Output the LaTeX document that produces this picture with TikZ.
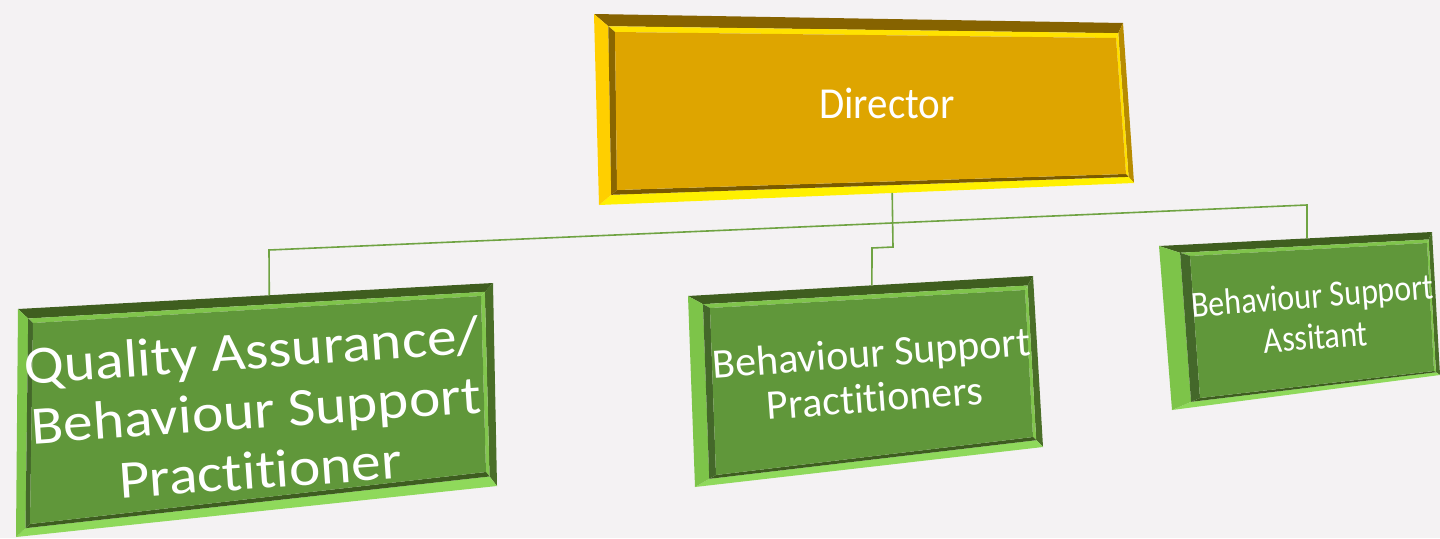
\documentclass[tikz,border=0pt]{standalone}
\usepackage{fontspec}
\setmainfont{Carlito}[Ligatures=NoCommon]
\usetikzlibrary{calc}

\definecolor{bg}{HTML}{F4F2F3}
\definecolor{wire}{HTML}{6FA342}
% gold scheme
\definecolor{yF}{HTML}{DEA500}
\definecolor{yTO}{HTML}{866300}
\definecolor{yTI}{HTML}{FFE200}
\definecolor{yLO}{HTML}{FFCF00}
\definecolor{yLI}{HTML}{8A6600}
\definecolor{yBO}{HTML}{FFF000}
\definecolor{yBI}{HTML}{7A5A00}
\definecolor{yRO}{HTML}{B88C00}
\definecolor{yRI}{HTML}{FFE000}
% green scheme
\definecolor{gF}{HTML}{60973A}
\definecolor{gTO}{HTML}{3F5E1F}
\definecolor{gTI}{HTML}{80C44C}
\definecolor{gLO}{HTML}{7DC449}
\definecolor{gLI}{HTML}{44682A}
\definecolor{gBO}{HTML}{8FD95B}
\definecolor{gBI}{HTML}{3E5D20}
\definecolor{gRO}{HTML}{4A6F28}
\definecolor{gRI}{HTML}{82C64E}

% bevelled panel from outer corners (#1o1..#1o4) and face corners (#1f1..#1f4)
\newcommand{\bevelpanel}[2]{%
  \foreach \k in {1,2,3,4}{\coordinate (#1m\k) at ($(#1o\k)!0.68!(#1f\k)$);}
  \fill[#2TO] (#1o1) -- (#1o2) -- (#1m2) -- (#1m1) -- cycle;
  \fill[#2RO] (#1o2) -- (#1o3) -- (#1m3) -- (#1m2) -- cycle;
  \fill[#2BO] (#1o3) -- (#1o4) -- (#1m4) -- (#1m3) -- cycle;
  \fill[#2LO] (#1o4) -- (#1o1) -- (#1m1) -- (#1m4) -- cycle;
  \fill[#2TI] (#1m1) -- (#1m2) -- (#1f2) -- (#1f1) -- cycle;
  \fill[#2RI] (#1m2) -- (#1m3) -- (#1f3) -- (#1f2) -- cycle;
  \fill[#2BI] (#1m3) -- (#1m4) -- (#1f4) -- (#1f3) -- cycle;
  \fill[#2LI] (#1m4) -- (#1m1) -- (#1f1) -- (#1f4) -- cycle;
  \fill[#2F] (#1f1) -- (#1f2) -- (#1f3) -- (#1f4) -- cycle;
}

\begin{document}
\begin{tikzpicture}[x=1pt,y=-1pt,
  lbl/.style={text=white, align=center, inner sep=0pt},
  wireline/.style={draw=wire, line width=1.6pt}]
\fill[bg] (0,0) rectangle (1440,538);
\useasboundingbox (0,0) rectangle (1440,538);

% Director panel
\coordinate (do1) at (594,14);
\coordinate (do2) at (1123,23);
\coordinate (do3) at (1134,183);
\coordinate (do4) at (599,205);
\coordinate (df1) at (615,32);
\coordinate (df2) at (1116,38);
\coordinate (df3) at (1126,174);
\coordinate (df4) at (617,190);
\bevelpanel{d}{y}

% Quality Assurance panel
\coordinate (qo1) at (18,309);
\coordinate (qo2) at (493,283);
\coordinate (qo3) at (497,486);
\coordinate (qo4) at (16,537);
\coordinate (qf1) at (33,323);
\coordinate (qf2) at (481,296);
\coordinate (qf3) at (486,472);
\coordinate (qf4) at (30,524);
\bevelpanel{q}{g}

% Practitioners panel
\coordinate (po1) at (688,296);
\coordinate (po2) at (1033,276);
\coordinate (po3) at (1043,447);
\coordinate (po4) at (695,487);
\coordinate (pf1) at (710,308);
\coordinate (pf2) at (1025,290);
\coordinate (pf3) at (1033,437);
\coordinate (pf4) at (716,475);
\bevelpanel{p}{g}

% Assistant panel
\coordinate (ao1) at (1159,246);
\coordinate (ao2) at (1432,232);
\coordinate (ao3) at (1440,375);
\coordinate (ao4) at (1172,410);
\coordinate (af1) at (1190,256);
\coordinate (af2) at (1427,243);
\coordinate (af3) at (1434,371);
\coordinate (af4) at (1200,398);
\bevelpanel{a}{g}

% labels
\node[lbl, font=\fontsize{41}{49}\selectfont, yscale=1.08] (dirtxt) at (887,103) {Director};
\node[lbl, font=\fontsize{54}{60}\selectfont, rotate=4, xscale=1.1] (qatxt) at (256,410)
  {Quality Assurance/\\Behaviour Support\\Practitioner};
\node[lbl, font=\fontsize{42}{45}\selectfont, rotate=4.2] (bsptxt) at (873,375)
  {Behaviour Support\\Practitioners};
\node[lbl, font=\fontsize{32}{36}\selectfont, rotate=4.5, yscale=1.15] (bsatxt) at (1314,316)
  {Behaviour Support\\Assitant};

% connectors
\coordinate (dS) at ($(do4)!0.548!(do3)$);
\coordinate (qN) at ($(qo1)!0.529!(qo2)$);
\coordinate (pN) at ($(po1)!0.533!(po2)$);
\coordinate (aN) at ($(ao1)!0.542!(ao2)$);
\coordinate (busL) at (269,250);
\coordinate (busR) at (1307,205);
\coordinate (jogA) at (893,247);
\coordinate (jogB) at (872,248);
\draw[wireline] (qN) -- (busL) -- (busR) -- (aN);
\draw[wireline] (dS) -- (jogA) -- (jogB) -- (pN);
\end{tikzpicture}
\end{document}
